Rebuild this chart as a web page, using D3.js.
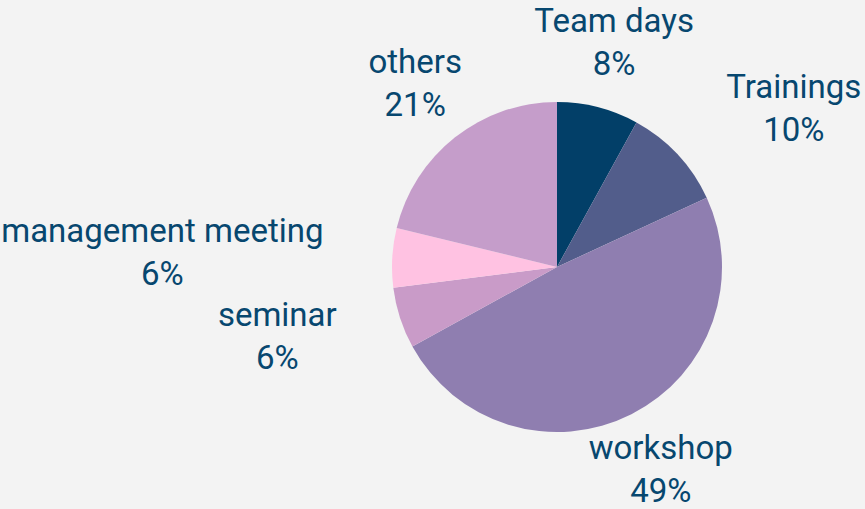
<!DOCTYPE html>
<html>
<head>
<meta charset="utf-8">
<script src="https://cdn.jsdelivr.net/npm/d3@7"></script>
<style>
  html, body { margin: 0; padding: 0; background: #f3f3f3; }
  svg { display: block; }
</style>
</head>
<body>
<svg id="chart" width="865" height="509"></svg>
<script>
// ---- data ----
const categories = ["Team days", "Trainings", "workshop", "seminar", "management meeting", "others"];
const values = [8.0, 10.1, 48.9, 6.0, 5.8, 21.2];
const percentLabels = ["8%", "10%", "49%", "6%", "6%", "21%"];
const colors = ["#023f68", "#525d8b", "#8f7eb0", "#c99bc8", "#ffc2e2", "#c59dca"];

// ---- layout ----
const W = 865, H = 509;
const cx = 557, cy = 267, R = 165;
const labelShiftDeg = [0.6, 11.1, 0.9, 1.85, -2.7, -1.2];
const labelDist = [220.6, 279, 237.4, 291.2, 394.7, 223.6];
const lineGap = 43;

const svg = d3.select("#chart");
svg.append("rect").attr("width", W).attr("height", H).attr("fill", "#f3f3f3");

const data = categories.map((c, i) => ({ cat: c, value: values[i], pct: percentLabels[i], color: colors[i], i }));

const pie = d3.pie().value(d => d.value).sort(null);
const arc = d3.arc().innerRadius(0).outerRadius(R);
const arcs = pie(data);

const g = svg.append("g").attr("transform", `translate(${cx},${cy})`);
g.selectAll("path").data(arcs).join("path")
  .attr("d", arc)
  .attr("fill", d => d.data.color);

g.selectAll("text.lbl").data(arcs).join("text")
  .attr("class", "lbl")
  .attr("text-anchor", "middle")
  .attr("fill", "#07476f")
  .style("font-family", "Roboto, 'Noto Sans', sans-serif")
  .style("font-size", "33px")
  .each(function(d) {
    const mid = (d.startAngle + d.endAngle) / 2 + labelShiftDeg[d.data.i] * Math.PI / 180;
    const dist = labelDist[d.data.i];
    const x = Math.sin(mid) * dist;
    const y = -Math.cos(mid) * dist;
    const t = d3.select(this);
    t.append("tspan").attr("x", x).attr("y", y - lineGap / 2).text(d.data.cat);
    t.append("tspan").attr("x", x).attr("y", y + lineGap / 2).text(d.data.pct);
  });
</script>
</body>
</html>
